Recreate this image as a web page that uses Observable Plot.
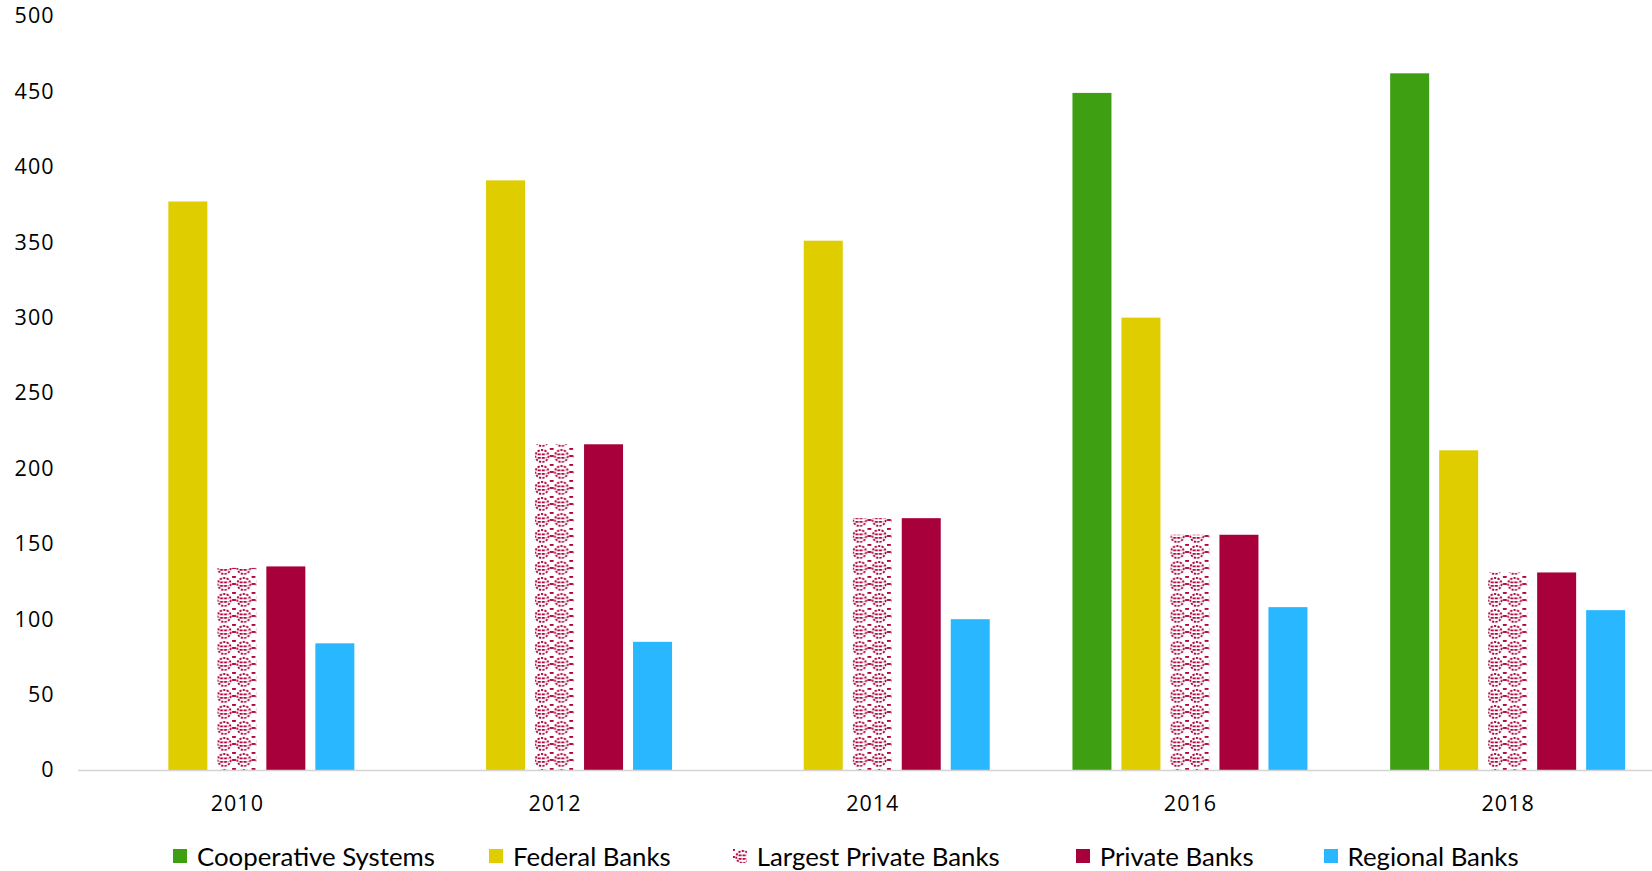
<!DOCTYPE html>
<html>
<head>
<meta charset="utf-8">
<script src="https://cdn.jsdelivr.net/npm/d3@7"></script>
<script src="https://cdn.jsdelivr.net/npm/@observablehq/plot@0.6"></script>
<style>
  html, body { margin: 0; padding: 0; background: #fff; overflow: hidden; }
  #chart svg { display: block; overflow: hidden; }
  #chart svg text { letter-spacing: 1px; }
  #legend {
    height: 51px; box-sizing: border-box; padding-top: 20px; padding-left: 173px;
    display: flex; align-items: center; justify-content: flex-start;
    font-family: Lato, "Open Sans", sans-serif; font-size: 25.8px; color: #000;
  }
  .item { display: flex; align-items: center; }
  .item:nth-child(1) { margin-right: 54px; }
  .item:nth-child(2) { margin-right: 62px; }
  .item:nth-child(3) { margin-right: 76px; }
  .item:nth-child(4) { margin-right: 70px; }
  .item svg { width: 14px; height: 14px; margin-right: 10px; flex: none; }
</style>
</head>
<body>
<div id="chart"></div>
<div id="legend"></div>
<script>
const years = ["2010", "2012", "2014", "2016", "2018"];
const series = ["Cooperative Systems", "Federal Banks", "Largest Private Banks", "Private Banks", "Regional Banks"];
const cooperativeSystems = [null, null, null, 449, 462];
const federalBanks = [377, 391, 351, 300, 212];
const largestPrivateBanks = [134, 216, 167, 156, 131];
const privateBanks = [135, 216, 167, 156, 131];
const regionalBanks = [84, 85, 100, 108, 106];
const yTicks = [0, 50, 100, 150, 200, 250, 300, 350, 400, 450, 500];
const colors = ["#3f9f12", "#dfcd00", "url(#lpb)", "#a8003b", "#29b8ff"];

const valuesBySeries = [cooperativeSystems, federalBanks, largestPrivateBanks, privateBanks, regionalBanks];
const rows = [];
series.forEach((s, i) => {
  years.forEach((y, j) => {
    const v = valuesBySeries[i][j];
    if (v != null) rows.push({year: y, series: s, value: v});
  });
});

const chart = Plot.plot({
  width: 1652,
  height: 820,
  marginLeft: 78,
  marginRight: -14.5,
  marginTop: 16,
  marginBottom: 50,
  style: {fontFamily: "'Open Sans', 'Noto Sans', sans-serif", fontSize: "21.5px", color: "#000", background: "#fff"},
  fx: {domain: years, padding: 0, round: false, axis: "bottom", tickSize: 0, tickPadding: 25, label: null},
  x: {domain: series, paddingInner: 0.204, paddingOuter: 0.844, round: false, axis: null},
  y: {domain: [0, 500], ticks: yTicks, tickSize: 0, tickPadding: 24, label: null},
  color: {domain: series, range: colors},
  marks: [
    Plot.barY(rows, {fx: "year", x: "series", y: "value", fill: "series"}),
    Plot.ruleY([0], {stroke: "#d4d4d4", strokeWidth: 1.5})
  ]
});

const patternDefs = `
<defs>
  <pattern id="lpb" patternUnits="userSpaceOnUse" width="19.5" height="16">
    <rect width="19.5" height="16" fill="#fff"/>
    <ellipse cx="9.75" cy="8" rx="6.5" ry="6" fill="none" stroke="#b0033f" stroke-width="1.8" stroke-dasharray="2.2 1.3"/>
    <line x1="5.5" y1="6.4" x2="14" y2="6.4" stroke="#b0033f" stroke-width="1.7" stroke-dasharray="3 1"/>
    <line x1="5.5" y1="9.8" x2="14" y2="9.8" stroke="#b0033f" stroke-width="1.7" stroke-dasharray="3 1"/>
    <rect x="0" y="0" width="1.9" height="1.9" fill="#b0033f"/>
    <rect x="17.6" y="0" width="1.9" height="1.9" fill="#b0033f"/>
    <rect x="0" y="7.05" width="1.9" height="1.9" fill="#b0033f"/>
    <rect x="17.6" y="7.05" width="1.9" height="1.9" fill="#b0033f"/>
  </pattern>
</defs>`;
chart.insertAdjacentHTML("afterbegin", patternDefs);
document.getElementById("chart").appendChild(chart);

const legend = document.getElementById("legend");
series.forEach((s, i) => {
  const item = document.createElement("div");
  item.className = "item";
  item.innerHTML = `<svg viewBox="0 0 14 14"><rect width="14" height="14" fill="${colors[i]}"/></svg><span>${s}</span>`;
  legend.appendChild(item);
});
</script>
</body>
</html>
